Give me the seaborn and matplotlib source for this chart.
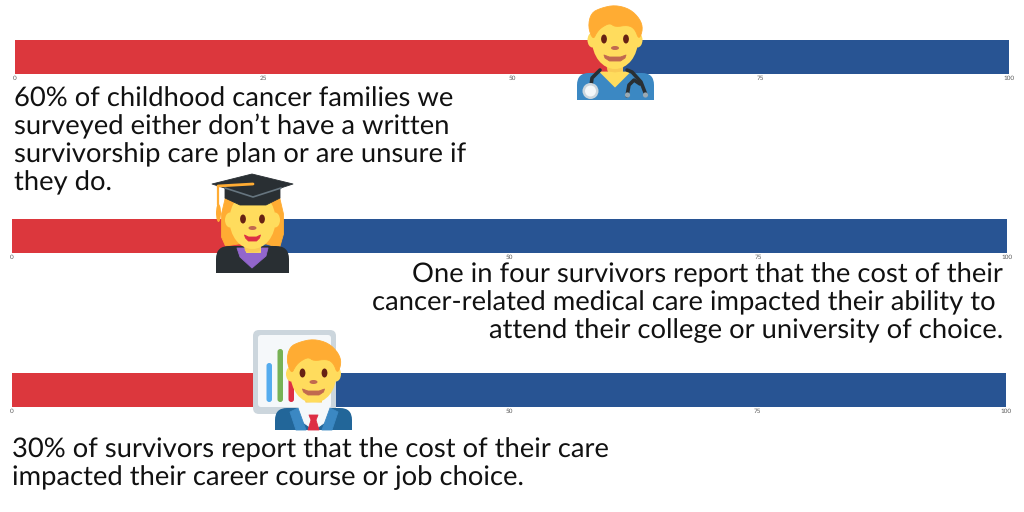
import matplotlib
matplotlib.use('Agg')
import matplotlib.pyplot as plt
from matplotlib.patches import Ellipse, Polygon, FancyBboxPatch, Circle
import seaborn as sns

# chart values, percent of respondents
shares = [60, 25, 30]
totals = [100, 100, 100]
tick_values = [0, 25, 50, 75, 100]
captions = [
    ["60% of childhood cancer families we", "surveyed either don’t have a written",
     "survivorship care plan or are unsure if", "they do."],
    ["One in four survivors report that the cost of their",
     "cancer-related medical care impacted their ability to ",
     "attend their college or university of choice."],
    ["30% of survivors report that the cost of their care",
     "impacted their career course or job choice."],
]

RED = '#DC373D'
BLUE = '#285493'
W, H = 1024, 512

sns.set_theme(style='white')
plt.rcParams['font.family'] = ['Lato', 'DejaVu Sans']
plt.rcParams['text.hinting'] = 'no_hinting'
plt.rcParams['text.hinting_factor'] = 8

fig = plt.figure(figsize=(W / 100, H / 100), dpi=100, facecolor='white')

# x0, x1, top, bottom of each bar in pixels
bar_boxes = [(15, 1009, 40, 74), (12, 1007, 219, 253), (12, 1006, 373, 407)]

for share, total, (x0, x1, top, bottom) in zip(shares, totals, bar_boxes):
    ax = fig.add_axes([x0 / W, 1 - bottom / H, (x1 - x0) / W, (bottom - top) / H])
    sns.barplot(x=[total], y=[''], orient='h', color=BLUE, width=1, saturation=1, linewidth=0, ax=ax)
    sns.barplot(x=[share], y=[''], orient='h', color=RED, width=1, saturation=1, linewidth=0, ax=ax)
    ax.set_xlim(0, 100)
    ax.set_xticks(tick_values)
    ax.set_xticklabels([str(v) for v in tick_values])
    ax.tick_params(axis='x', length=0, pad=1, labelsize=4.6, labelcolor='#555555')
    ax.set_yticks([])
    ax.set_xlabel('')
    ax.set_ylabel('')
    sns.despine(ax=ax, left=True, bottom=True)

# text + icons go on a pixel-sized overlay
ov = fig.add_axes([0, 0, 1, 1], zorder=5)
ov.set_xlim(0, W)
ov.set_ylim(H, 0)
ov.axis('off')
ov.patch.set_alpha(0)

text_opts = dict(fontsize=19.75, color='#111111', va='baseline')
for line, y in zip(captions[0], [107, 134, 162, 190]):
    ov.text(14, y, line, ha='left', **text_opts)
for line, y in zip(captions[1], [282, 310, 338]):
    ov.text(1003, y, line, ha='right', **text_opts)
for line, y in zip(captions[2], [457, 485]):
    ov.text(12, y, line, ha='left', **text_opts)

HAIR = '#FFAC33'
SKIN = '#FFDC5D'
NECK = '#F9CA55'
BROWN = '#662113'
NOSE = '#C1694F'


def soften(points, rounds=2):
    # corner cutting so the hair outline is not jagged
    for _ in range(rounds):
        out = []
        for i, (x0, y0) in enumerate(points):
            x1, y1 = points[(i + 1) % len(points)]
            out.append((0.75 * x0 + 0.25 * x1, 0.75 * y0 + 0.25 * y1))
            out.append((0.25 * x0 + 0.75 * x1, 0.25 * y0 + 0.75 * y1))
        points = out
    return points


def poly(points, color, cx=0, cy=0, z=6):
    pts = [(cx + px, cy + py) for px, py in points]
    ov.add_patch(Polygon(pts, closed=True, fc=color, ec=color, lw=0.6, joinstyle='round', zorder=z))


def oval(x, y, w, h, color, z=6):
    ov.add_patch(Ellipse((x, y), w, h, fc=color, ec='none', zorder=z))


def rbox(x, y, w, h, r, color, z=6, cut=None):
    # cut = y where the shape stops, icons have a flat bottom
    p = FancyBboxPatch((x + r, y + r), w - 2 * r, h - 2 * r,
                       boxstyle=f'round,pad={r}', fc=color, ec='none', zorder=z)
    ov.add_patch(p)
    if cut is not None:
        p.set_clip_path(plt.Rectangle((x - 2, y - 2), w + 4, cut - y + 2, transform=ov.transData))


def face(cx, cy, eye_dx=11, lips=NOSE, mouth=11, z=8):
    # cx, cy = midpoint between the eyes
    poly([(-7, 20), (7, 20), (7, 33), (-7, 33)], SKIN, cx, cy, z)
    poly([(-8, 27), (8, 27), (7, 32), (0, 33), (-7, 32)], NECK, cx, cy, z)
    oval(cx - 22.5, cy + 1, 10, 15, SKIN, z)
    oval(cx + 22.5, cy + 1, 10, 15, SKIN, z)
    oval(cx, cy + 1, 46, 58, SKIN, z)
    oval(cx - eye_dx, cy, 5.8, 9, BROWN, z + 1)
    oval(cx + eye_dx, cy, 5.8, 9, BROWN, z + 1)
    oval(cx, cy + 9, 8, 4, NOSE, z + 1)
    m = mouth
    poly([(-m, 16), (-m / 2, 18), (m / 2, 18), (m, 16), (m - 1, 19), (m / 2, 22), (-m / 2, 22), (-m + 1, 19)],
         lips, cx, cy, z + 1)


def male_hair(cx, cy, z=9):
    outline = [(-22, 1), (-27, -12), (-24, -26), (-14, -31), (0, -34), (15, -30), (25, -20), (28, -10),
               (24, 1), (20, -10), (13, -14), (0, -12), (-5, -16), (-13, -12), (-18, -7)]
    poly(soften(outline), HAIR, cx, cy, z)


# doctor
cx, cy = 615, 39
rbox(577, 73, 77, 40, 12, '#3B88C3', 6, cut=100)
poly([(-15, 33), (15, 33), (0, 48)], SKIN, cx, cy, 7)
face(cx, cy)
male_hair(cx, cy)
steth = dict(color='#292F33', lw=2.6, solid_capstyle='round', zorder=9)
ov.plot([590, 592, 600], [94, 78, 70], **steth)
ov.plot([627, 632, 641, 646], [70, 72, 82, 95], **steth)
ov.plot([627, 629, 634, 640], [96, 85, 80, 84], **steth)
ov.add_patch(Circle((590.5, 91), 8, fc='#CCD6DD', ec='none', zorder=10))
ov.add_patch(Circle((590.5, 91), 5.5, fc='#F5F8FA', ec='none', zorder=11))
ov.add_patch(Circle((627.5, 95), 2.6, fc='#99AAB5', ec='none', zorder=10))
ov.add_patch(Circle((645.5, 95), 2.6, fc='#99AAB5', ec='none', zorder=10))

# graduate
cx, cy = 252.5, 219
poly([(-27, -22), (-31, -5), (-31, 18), (-27, 27), (-14, 25), (14, 25), (27, 29), (31, 15),
      (31, -5), (27, -22)], HAIR, cx, cy, 6)
rbox(216, 246, 73, 40, 13, '#292F33', 7, cut=273)
poly([(237, 248), (268, 248), (266, 256), (252, 268), (240, 257)], '#9266CC', z=7.7)
face(cx, cy, eye_dx=9.5, lips='#DD2E44', mouth=8)
poly([(225, 183), (225, 198), (240, 205), (266, 205), (280, 198), (280, 183)], '#292F33', z=11)
poly([(212, 184), (252, 174), (293, 184), (253, 197)], '#292F33', z=12)
ov.plot([225, 253, 281], [188, 197, 188], color='#66757F', lw=1.2, zorder=12)
ov.plot([218, 253], [186, 184], color=HAIR, lw=2, solid_capstyle='round', zorder=13)
ov.plot([218, 218], [186, 205], color=HAIR, lw=1.6, zorder=13)
oval(218.5, 213, 5, 18, HAIR, 13)

# business man with chart
rbox(253, 330, 83, 84, 6, '#CCD6DD', 6)
rbox(258, 335, 73, 72, 3, '#F5F8FA', 7)
rbox(266.5, 363, 5.5, 39, 2.7, '#55ACEE', 8)
rbox(277.5, 349, 5.5, 53, 2.7, '#77B255', 8)
rbox(288.5, 370, 5.5, 32, 2.7, '#DD2E44', 8)
cx, cy = 313.5, 373
rbox(275, 408, 77, 40, 12, '#226699', 8.5, cut=430)
poly([(298, 403), (330, 403), (331, 418), (314, 430), (297, 418)], '#F5F8FA', z=8.7)
poly([(298, 408), (306, 430), (296, 430), (290, 412)], '#3B88C3', z=8.8)
poly([(330, 408), (322, 430), (332, 430), (338, 412)], '#3B88C3', z=8.8)
poly([(309, 415), (318, 415), (316, 420), (319, 430), (308, 430), (311, 420)], '#DD2E44', z=8.9)
face(cx, cy)
male_hair(cx, cy)

fig.savefig('out.png', dpi=100)
